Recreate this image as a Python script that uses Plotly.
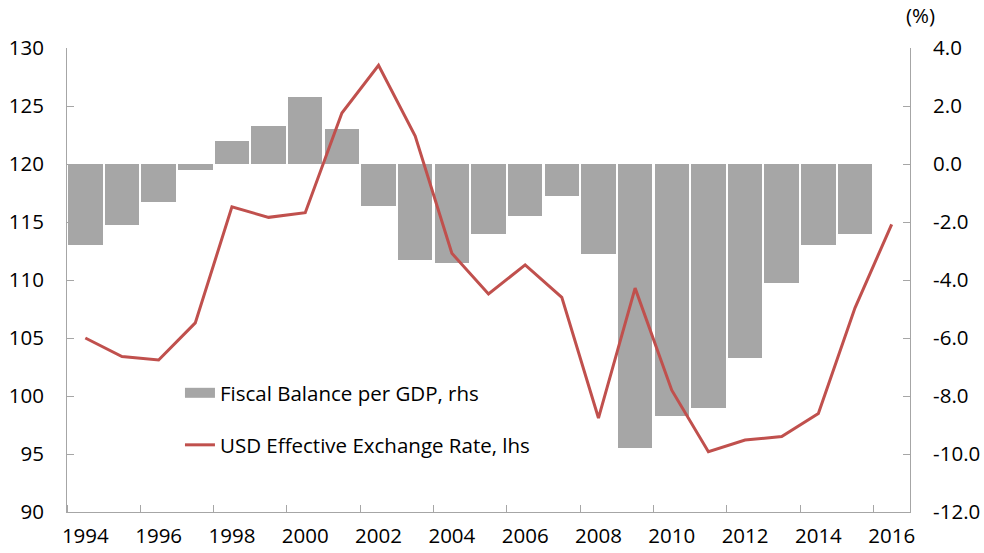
import plotly.graph_objects as go

years = list(range(1994, 2017))
fiscal_years = list(range(1994, 2016))
fiscal_balance = [-2.8, -2.1, -1.3, -0.2, 0.8, 1.3, 2.3, 1.2, -1.45, -3.3, -3.4, -2.4,
                  -1.8, -1.1, -3.1, -9.8, -8.7, -8.4, -6.7, -4.1, -2.8, -2.4]
usd_eer = [105.0, 103.4, 103.1, 106.3, 116.3, 115.4, 115.8, 124.4, 128.5, 122.4, 112.3, 108.8,
           111.3, 108.5, 98.1, 109.3, 100.5, 95.2, 96.2, 96.5, 98.5, 107.6, 114.8]

x_tick_vals = list(range(1994, 2017, 2))
x_tick_text = [str(v) for v in x_tick_vals]
left_tick_vals = [90, 95, 100, 105, 110, 115, 120, 125, 130]
left_tick_text = [str(v) for v in left_tick_vals]
right_tick_vals = [-12, -10, -8, -6, -4, -2, 0, 2, 4]
right_tick_text = ["-12.0", "-10.0", "-8.0", "-6.0", "-4.0", "-2.0", "0.0", "2.0", "4.0"]

bar_name = "Fiscal Balance per GDP, rhs"
line_name = "USD Effective Exchange Rate, lhs"

BAR_COLOR = "#a6a6a6"
LINE_COLOR = "#c0504d"
AXIS_COLOR = "#a6a6a6"
FONT = dict(family="Open Sans", size=20.5, color="#000000")

fig = go.Figure()
fig.add_trace(go.Bar(x=fiscal_years, y=fiscal_balance, width=0.94, marker=dict(color=BAR_COLOR, line=dict(width=0)),
                     name=bar_name, yaxis="y", showlegend=False))
# legend proxy for the bars (wide gray swatch)
fig.add_trace(go.Scatter(x=[None], y=[None], mode="lines", line=dict(color=BAR_COLOR, width=13),
                         name=bar_name, yaxis="y", legend="legend"))
fig.add_trace(go.Scatter(x=years, y=usd_eer, mode="lines", line=dict(color=LINE_COLOR, width=3),
                         name=line_name, yaxis="y2", legend="legend2"))

fig.update_layout(
    width=984, height=553,
    margin=dict(l=67, r=74, t=48, b=41, autoexpand=False),
    paper_bgcolor="white", plot_bgcolor="white",
    font=FONT,
    bargap=0,
    xaxis=dict(range=[1993.5, 2016.5], tickvals=x_tick_vals, ticktext=x_tick_text, ticks="",
               showline=True, linecolor=AXIS_COLOR, linewidth=1, showgrid=False, zeroline=False,
               ticklabelstandoff=5, automargin=False,
               minor=dict(ticks="inside", ticklen=7, tickcolor=AXIS_COLOR, dtick=2, tick0=1993.5, showgrid=False)),
    yaxis=dict(range=[-12, 4], side="right", tickvals=right_tick_vals, ticktext=right_tick_text,
               ticks="inside", ticklen=7, tickcolor=AXIS_COLOR, showline=True, linecolor=AXIS_COLOR,
               showgrid=False, zeroline=False, ticklabelstandoff=18, automargin=False),
    yaxis2=dict(range=[90, 130], side="left", overlaying="y", tickvals=left_tick_vals, ticktext=left_tick_text,
                ticks="inside", ticklen=7, tickcolor=AXIS_COLOR, showline=True, linecolor=AXIS_COLOR,
                showgrid=False, zeroline=False, ticklabelstandoff=18, automargin=False),
    legend=dict(x=0.134, y=0.2565, xanchor="left", yanchor="middle", bgcolor="rgba(0,0,0,0)", font=FONT),
    legend2=dict(x=0.134, y=0.1444, xanchor="left", yanchor="middle", bgcolor="rgba(0,0,0,0)", font=FONT),
    annotations=[dict(text="(%)", xref="paper", yref="paper", x=1.0, y=1.0, xanchor="left", yanchor="bottom",
                      xshift=-6, yshift=17, showarrow=False, font=FONT)],
)

fig.write_html("out.html")
